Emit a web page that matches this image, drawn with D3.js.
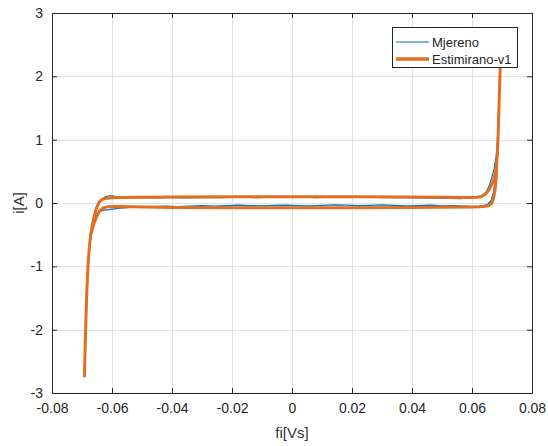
<!DOCTYPE html>
<html>
<head>
<meta charset="utf-8">
<script src="https://cdn.jsdelivr.net/npm/d3@7"></script>
<style>
  html, body { margin: 0; padding: 0; background: #fff; }
  svg { display: block; }
  text { font-family: "Liberation Sans", Arial, Helvetica, sans-serif; fill: #262626; }
</style>
</head>
<body>
<svg id="chart" width="548" height="446"></svg>
<script>
// ---- Data ----
const xTicks = [-0.08, -0.06, -0.04, -0.02, 0, 0.02, 0.04, 0.06, 0.08];
const xTickLabels = ["-0.08", "-0.06", "-0.04", "-0.02", "0", "0.02", "0.04", "0.06", "0.08"];
const yTicks = [-3, -2, -1, 0, 1, 2, 3];
const yTickLabels = ["-3", "-2", "-1", "0", "1", "2", "3"];
const seriesNames = ["Mjereno", "Estimirano-v1"];

// Measured loop (fi, i)
const measuredFi = [
  -0.0691, -0.0687, -0.0683, -0.0679, -0.0674, -0.0668, -0.0660, -0.0650, -0.0638, -0.0622,
  -0.0607, -0.059, -0.056, -0.052, -0.048, -0.044, -0.040, -0.036, -0.032, -0.028,
  -0.024, -0.020, -0.016, -0.012, -0.008, -0.004, 0.000, 0.004, 0.008, 0.012,
  0.016, 0.020, 0.024, 0.028, 0.032, 0.036, 0.040, 0.044, 0.048, 0.052,
  0.056, 0.060, 0.062, 0.0635, 0.0648, 0.0658, 0.0666, 0.0674, 0.0680, 0.0685,
  0.0689, 0.0693, 0.0697,
  0.0694, 0.0690, 0.0686, 0.0682, 0.0678, 0.0672, 0.0664, 0.0652, 0.0635, 0.061,
  0.058, 0.054, 0.050, 0.046, 0.042, 0.038, 0.034, 0.030, 0.026, 0.022,
  0.018, 0.014, 0.010, 0.006, 0.002, -0.002, -0.006, -0.010, -0.014, -0.018,
  -0.022, -0.026, -0.030, -0.034, -0.038, -0.042, -0.046, -0.050, -0.054, -0.058,
  -0.061, -0.063, -0.0645, -0.0655, -0.0663, -0.0669, -0.0674, -0.0679, -0.0683, -0.0687,
  -0.0691
];
const measuredI = [
  -2.72, -2.0, -1.4, -1.0, -0.70, -0.45, -0.25, -0.08, 0.04, 0.10,
  0.115, 0.105, 0.095, 0.085, 0.090, 0.082, 0.088, 0.080, 0.086, 0.090,
  0.083, 0.088, 0.092, 0.085, 0.090, 0.095, 0.088, 0.092, 0.085, 0.090,
  0.095, 0.100, 0.092, 0.088, 0.083, 0.087, 0.080, 0.076, 0.080, 0.072,
  0.070, 0.075, 0.090, 0.12, 0.18, 0.28, 0.40, 0.55, 0.72, 1.0,
  1.5, 2.1, 2.75,
  2.2, 1.6, 1.1, 0.70, 0.40, 0.18, 0.04, -0.02, -0.045, -0.055,
  -0.050, -0.040, -0.045, -0.035, -0.040, -0.045, -0.038, -0.030, -0.036, -0.042,
  -0.035, -0.030, -0.038, -0.045, -0.040, -0.033, -0.038, -0.045, -0.040, -0.035,
  -0.040, -0.048, -0.042, -0.050, -0.055, -0.050, -0.058, -0.062, -0.070, -0.085,
  -0.105, -0.115, -0.15, -0.24, -0.36, -0.50, -0.70, -1.0, -1.4, -2.0,
  -2.72
];

// Estimated loop (fi, i)
const estimatedFi = [
  -0.0692, -0.0688, -0.0684, -0.0680, -0.0676, -0.0671, -0.0666, -0.0659, -0.0651, -0.0642,
  -0.0630, -0.061, -0.058, -0.040, -0.020, 0.000, 0.020, 0.040, 0.058, 0.0615,
  0.063, 0.0645, 0.0658, 0.0670, 0.0677, 0.0682, 0.0685, 0.0688, 0.0691, 0.0695,
  0.0698,
  0.0695, 0.0691, 0.0688, 0.0685, 0.0682, 0.0681, 0.0678, 0.0673, 0.0666, 0.0655,
  0.063, 0.060, 0.040, 0.020, 0.000, -0.020, -0.040, -0.058, -0.0615, -0.0630,
  -0.0642, -0.0652, -0.0661, -0.0671, -0.0676, -0.0680, -0.0684, -0.0688, -0.0692
];
const estimatedI = [
  -2.75, -2.0, -1.4, -1.0, -0.72, -0.50, -0.36, -0.20, -0.07, 0.02,
  0.065, 0.080, 0.085, 0.095, 0.100, 0.100, 0.100, 0.095, 0.085, 0.090,
  0.100, 0.14, 0.22, 0.33, 0.45, 0.60, 0.80, 1.2, 1.7, 2.3,
  2.75,
  2.3, 1.7, 1.2, 0.80, 0.60, 0.42, 0.25, 0.10, 0.00, -0.045,
  -0.060, -0.062, -0.070, -0.075, -0.075, -0.075, -0.070, -0.055, -0.060, -0.080,
  -0.13, -0.22, -0.34, -0.50, -0.72, -1.0, -1.4, -2.0, -2.75
];

// ---- Layout ----
const svg = d3.select("#chart");
const plot = { left: 52, right: 532, top: 13, bottom: 393 };
const x = d3.scaleLinear().domain([-0.08, 0.08]).range([plot.left, plot.right]);
const y = d3.scaleLinear().domain([-3, 3]).range([plot.bottom, plot.top]);

const axisColor = "#262626";
const textColor = "#333333";
const gridColor = "#e3e3e3";
const blue = "#0072BD";
const orange = "#E0701F";

// Grid
const g = svg.append("g");
g.selectAll(".vgrid").data(xTicks).enter().append("line")
  .attr("x1", d => Math.round(x(d)) + 0.5).attr("x2", d => Math.round(x(d)) + 0.5)
  .attr("y1", plot.top).attr("y2", plot.bottom)
  .attr("stroke", gridColor).attr("stroke-width", 1);
g.selectAll(".hgrid").data(yTicks).enter().append("line")
  .attr("y1", d => Math.round(y(d)) + 0.5).attr("y2", d => Math.round(y(d)) + 0.5)
  .attr("x1", plot.left).attr("x2", plot.right)
  .attr("stroke", gridColor).attr("stroke-width", 1);

// Clip
svg.append("clipPath").attr("id", "clip").append("rect")
  .attr("x", plot.left).attr("y", plot.top)
  .attr("width", plot.right - plot.left).attr("height", plot.bottom - plot.top);

const line = d3.line().x(d => x(d[0])).y(d => y(d[1]));
const measured = measuredFi.map((v, i) => [v, measuredI[i]]);
const estimated = estimatedFi.map((v, i) => [v, estimatedI[i]]);

const lines = svg.append("g").attr("clip-path", "url(#clip)");
lines.append("path").datum(measured).attr("d", line)
  .attr("fill", "none").attr("stroke", blue).attr("stroke-width", 1.2)
  .attr("stroke-linejoin", "round");
lines.append("path").datum(estimated).attr("d", line)
  .attr("fill", "none").attr("stroke", orange).attr("stroke-width", 3)
  .attr("stroke-linejoin", "round").attr("stroke-linecap", "butt");

// Axes (box with inward ticks on all sides)
const tickLen = 5;
const axB = d3.axisBottom(x).tickValues(xTicks).tickFormat((d, i) => xTickLabels[i]).tickSizeInner(-tickLen).tickSizeOuter(0).tickPadding(10);
const axT = d3.axisTop(x).tickValues(xTicks).tickFormat("").tickSizeInner(-tickLen).tickSizeOuter(0);
const axL = d3.axisLeft(y).tickValues(yTicks).tickFormat((d, i) => yTickLabels[i]).tickSizeInner(-tickLen).tickSizeOuter(0).tickPadding(9);
const axR = d3.axisRight(y).tickValues(yTicks).tickFormat("").tickSizeInner(-tickLen).tickSizeOuter(0);

function styleAxis(sel) {
  sel.select(".domain").attr("stroke", axisColor).attr("stroke-width", 1);
  sel.selectAll(".tick line").attr("stroke", axisColor).attr("stroke-width", 1);
  sel.selectAll(".tick text").attr("fill", textColor).style("font-size", "14px")
    .style("font-family", "'Liberation Sans', Arial, sans-serif");
}
svg.append("g").attr("transform", `translate(0,${plot.bottom})`).call(axB).call(styleAxis);
svg.append("g").attr("transform", `translate(0,${plot.top})`).call(axT).call(styleAxis);
svg.append("g").attr("transform", `translate(${plot.left},0)`).call(axL).call(styleAxis);
svg.append("g").attr("transform", `translate(${plot.right},0)`).call(axR).call(styleAxis);

// Axis labels
svg.append("text").attr("x", (plot.left + plot.right) / 2).attr("y", 438)
  .attr("text-anchor", "middle").style("font-size", "15px").style("fill", textColor).text("fi[Vs]");
svg.append("text").attr("transform", `translate(24,${(plot.top + plot.bottom) / 2}) rotate(-90)`)
  .attr("text-anchor", "middle").style("font-size", "15px").style("fill", textColor).text("i[A]");

// Legend
const leg = svg.append("g");
leg.append("rect").attr("x", 392.5).attr("y", 27.5).attr("width", 125).attr("height", 40)
  .attr("fill", "#fff").attr("stroke", axisColor).attr("stroke-width", 1);
const legColors = [blue, orange];
const legWidths = [1.2, 3.5];
seriesNames.forEach((name, i) => {
  const cy = 42 + i * 17;
  leg.append("line").attr("x1", 396).attr("x2", 429).attr("y1", cy).attr("y2", cy)
    .attr("stroke", legColors[i]).attr("stroke-width", legWidths[i]);
  leg.append("text").attr("x", 432).attr("y", cy).attr("dy", "0.35em")
    .style("font-size", "13px").text(name);
});
</script>
</body>
</html>
